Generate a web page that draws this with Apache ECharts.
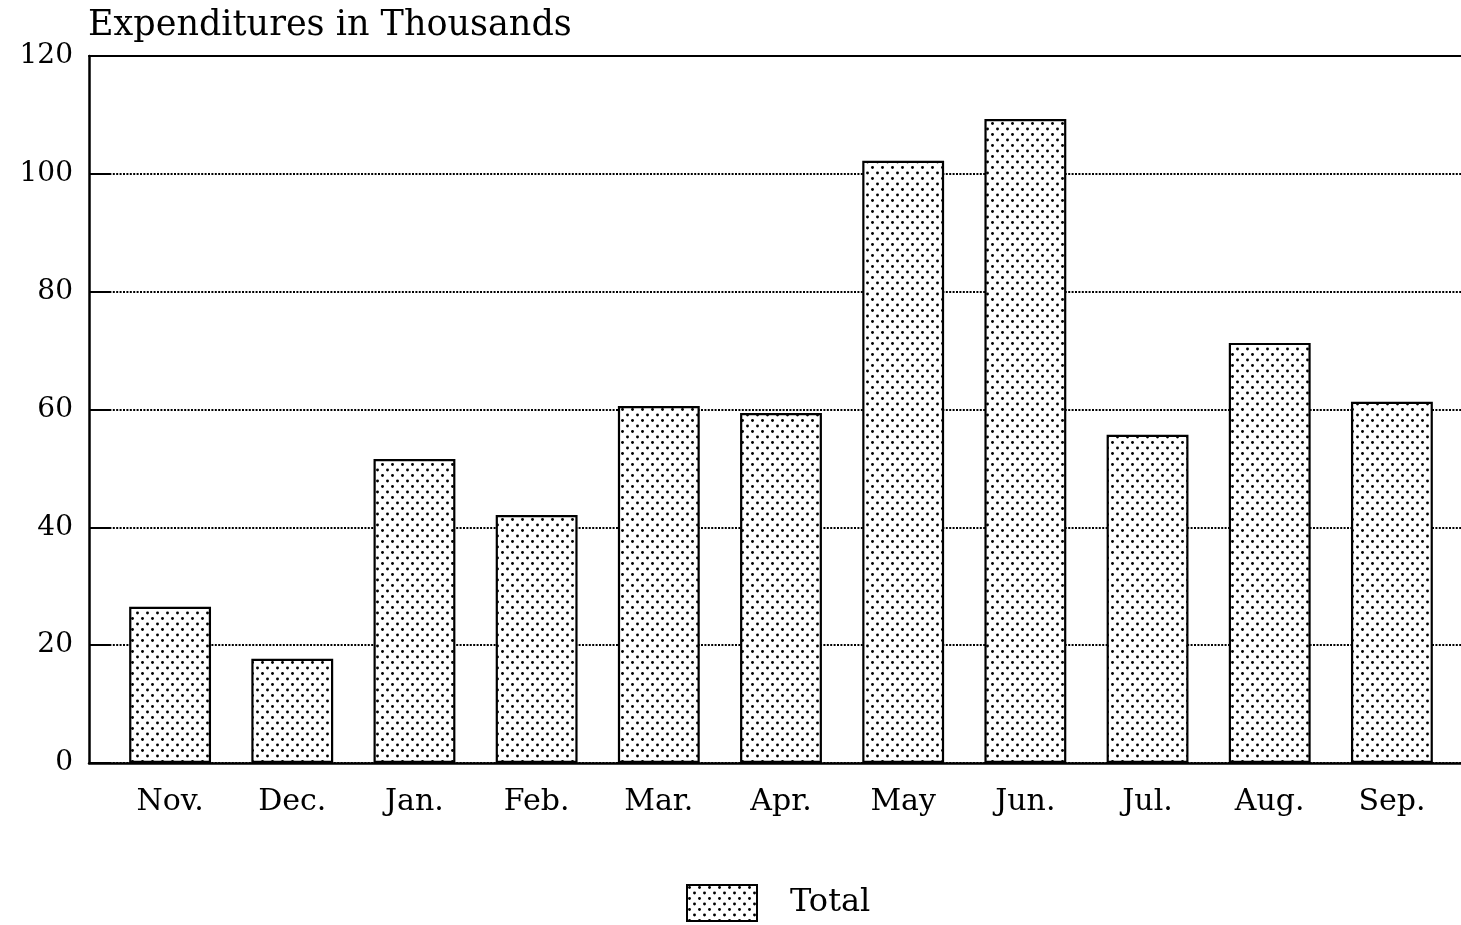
<!DOCTYPE html>
<html>
<head>
<meta charset="utf-8">
<script src="https://cdn.jsdelivr.net/npm/echarts@6/dist/echarts.min.js"></script>
<style>
html, body { margin: 0; padding: 0; background: #fff; }
#chart { width: 1461px; height: 925px; }
</style>
</head>
<body>
<div id="chart"></div>
<script>
// data
var months = ['Nov.', 'Dec.', 'Jan.', 'Feb.', 'Mar.', 'Apr.', 'May', 'Jun.', 'Jul.', 'Aug.', 'Sep.'];
var totals = [26.5, 17.7, 51.6, 42.1, 60.6, 59.4, 102.2, 109.3, 55.7, 71.3, 61.3];
var yTicks = [0, 20, 40, 60, 80, 100, 120];

var fontFam = '"DejaVu Serif", serif';

// dotted fill like the old plotter pattern
function makeDots() {
	var c = document.createElement('canvas');
	c.width = 10;
	c.height = 11;
	var ctx = c.getContext('2d');
	ctx.fillStyle = '#fff';
	ctx.fillRect(0, 0, 10, 11);
	ctx.fillStyle = '#000';
	ctx.beginPath();
	ctx.arc(2.5, 2.5, 1.45, 0, Math.PI * 2);
	ctx.fill();
	ctx.beginPath();
	ctx.arc(7.5, 8, 1.45, 0, Math.PI * 2);
	ctx.fill();
	return c;
}
var dotFill = { image: makeDots(), repeat: 'repeat' };

var chart = echarts.init(document.getElementById('chart'));
var option = {
	animation: false,
	backgroundColor: '#fff',
	title: {
		text: 'Expenditures in Thousands',
		left: 83,
		top: 3,
		textStyle: {
			fontFamily: fontFam,
			fontSize: 35,
			fontWeight: 'normal',
			color: '#000'
		}
	},
	legend: {
		left: 681,
		top: 879,
		icon: 'rect',
		itemWidth: 70,
		itemHeight: 36,
		itemGap: 20,
		itemStyle: { borderColor: '#000', borderWidth: 2 },
		textStyle: {
			fontFamily: fontFam,
			fontSize: 32,
			color: '#000',
			padding: [24, 0, 0, 28]
		},
		data: ['Total']
	},
	// grid 0 = frame / y axis, grid 1 = bars (inset a bit like the original)
	grid: [{
		left: 89,
		right: 0,
		top: 56,
		bottom: 162
	}, {
		left: 109,
		right: 8,
		top: 56,
		bottom: 162
	}],
	xAxis: [{
		gridIndex: 0,
		type: 'category',
		data: months,
		axisLabel: { show: false },
		axisTick: { show: false },
		axisLine: { lineStyle: { color: '#000', width: 2.5 } }
	}, {
		gridIndex: 1,
		type: 'category',
		data: months,
		axisLine: { show: false },
		axisTick: { show: false },
		axisLabel: {
			margin: 24,
			fontFamily: fontFam,
			fontSize: 30,
			color: '#000'
		}
	}, {
		// top border of the frame
		gridIndex: 0,
		type: 'category',
		position: 'top',
		data: months,
		axisLabel: { show: false },
		axisTick: { show: false },
		axisLine: { lineStyle: { color: '#000', width: 2 } }
	}],
	yAxis: [{
		gridIndex: 0,
		type: 'value',
		min: yTicks[0],
		max: yTicks[yTicks.length - 1],
		interval: 20,
		axisLine: { show: true, lineStyle: { color: '#000', width: 2.5 } },
		axisTick: { show: true, inside: true, length: 21, lineStyle: { color: '#000', width: 2 } },
		axisLabel: {
			margin: 16,
			fontFamily: fontFam,
			fontSize: 28,
			color: '#000'
		},
		splitLine: {
			show: true,
			lineStyle: { color: '#000', width: 2, type: [2, 1.4] }
		}
	}, {
		gridIndex: 1,
		type: 'value',
		min: yTicks[0],
		max: yTicks[yTicks.length - 1],
		show: false
	}],
	series: [{
		name: 'Total',
		type: 'bar',
		xAxisIndex: 1,
		yAxisIndex: 1,
		barCategoryGap: '33%',
		itemStyle: {
			color: dotFill,
			borderColor: '#000',
			borderWidth: 2.2
		},
		data: totals
	}]
};
chart.setOption(option);
</script>
</body>
</html>
